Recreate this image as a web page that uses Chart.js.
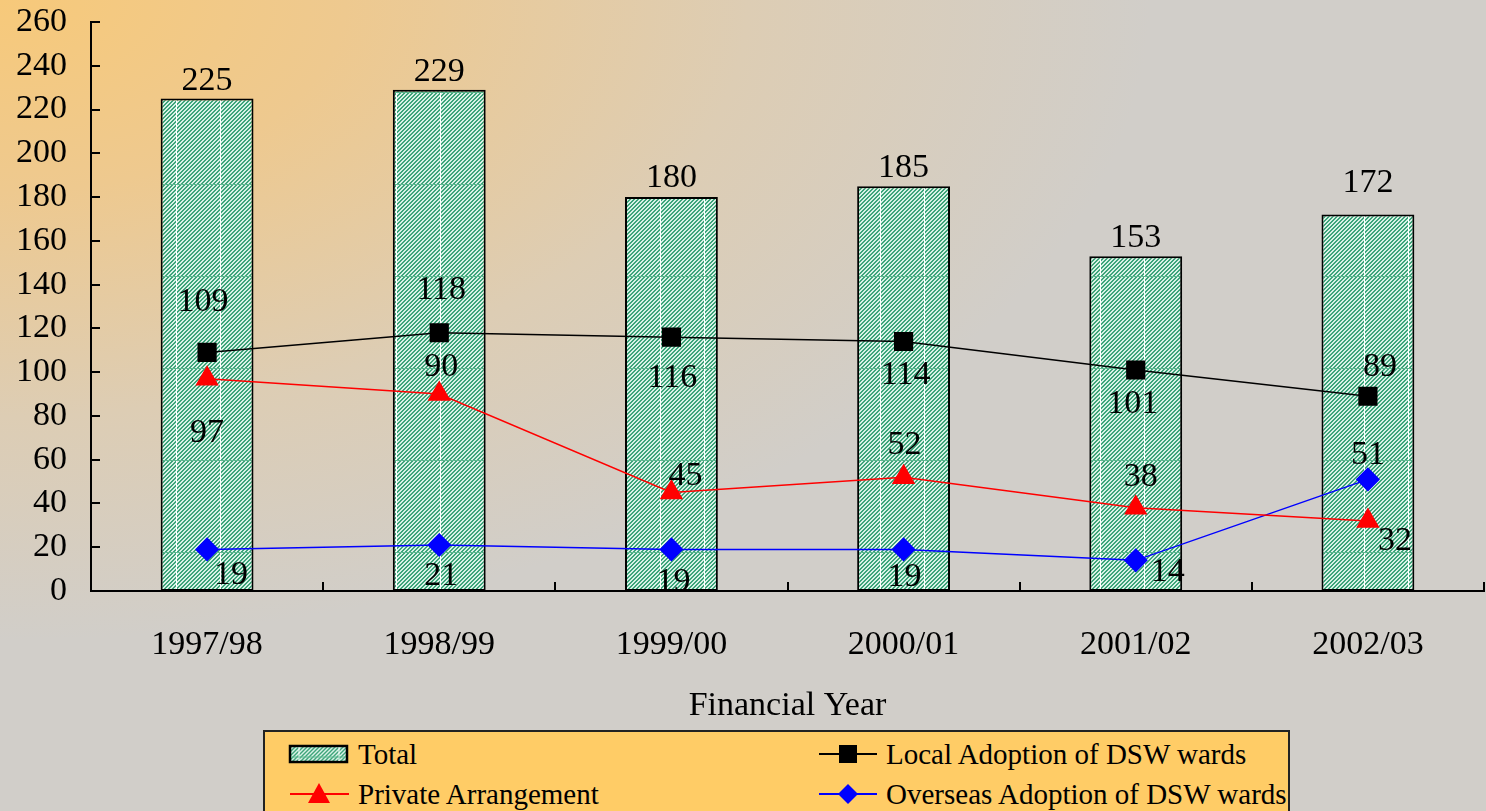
<!DOCTYPE html>
<html>
<head>
<meta charset="utf-8">
<script src="https://cdn.jsdelivr.net/npm/chart.js@4/dist/chart.umd.min.js"></script>
<style>
  html, body { margin: 0; padding: 0; }
  body {
    width: 1486px; height: 811px; overflow: hidden; position: relative;
    background: radial-gradient(ellipse 1150px 640px at 0 0, #f7c97a 0%, #eec98f 30%, #ddcdb4 65%, #d1cec9 100%);
    font-family: "Liberation Serif", "Times New Roman", serif;
  }
  #wrap { position: absolute; left: 0; top: 0; width: 1486px; height: 811px; }
  .legend {
    position: absolute; left: 263px; top: 730px; width: 1027px; height: 90px;
    background: #ffcc66; border: 2px solid #222; box-sizing: border-box;
    font-size: 29px; color: #000;
  }
  .item { position: absolute; display: flex; align-items: center; height: 36px; white-space: nowrap; }
  .item svg { margin-right: 5px; }
</style>
</head>
<body>
<div id="wrap"><canvas id="chart" width="1486" height="811"></canvas></div>
<div class="legend">
  <div class="item" style="left:22px;top:4px">
    <svg width="66" height="22">
      <defs>
        <pattern id="hatch" width="4" height="4" patternUnits="userSpaceOnUse">
          <rect width="4" height="4" fill="#d8f2e6"/>
          <path d="M-1,1 L1,-1 M0,4 L4,0 M3,5 L5,3" stroke="#3da47a" stroke-width="1.4"/>
        </pattern>
      </defs>
      <rect x="3" y="3" width="57" height="16" fill="url(#hatch)" stroke="#000" stroke-width="2.5"/>
      <line x1="12" y1="4" x2="12" y2="18" stroke="#fff" stroke-width="1"/>
      <line x1="52" y1="4" x2="52" y2="18" stroke="#fff" stroke-width="1"/>
      <line x1="4" y1="14" x2="59" y2="14" stroke="#5cb890" stroke-width="1"/>
    </svg>Total
  </div>
  <div class="item" style="left:22px;top:44px">
    <svg width="66" height="30"><line x1="3" y1="15" x2="62" y2="15" stroke="#ff0000" stroke-width="2"/><polygon points="32,4 43,24 21,24" fill="#ff0000"/></svg>Private Arrangement
  </div>
  <div class="item" style="left:552px;top:4px">
    <svg width="64" height="30"><line x1="2" y1="15" x2="60" y2="15" stroke="#000" stroke-width="2"/><rect x="22" y="6" width="18" height="18" fill="#000"/></svg>Local Adoption of DSW wards
  </div>
  <div class="item" style="left:552px;top:44px">
    <svg width="64" height="30"><line x1="2" y1="15" x2="60" y2="15" stroke="#0000ff" stroke-width="2"/><polygon points="31,5 41,15 31,25 21,15" fill="#0000ff"/></svg>Overseas Adoption of DSW wards
  </div>
</div>
<script>
const categories = ['1997/98', '1998/99', '1999/00', '2000/01', '2001/02', '2002/03'];
const totalValues = [225, 229, 180, 185, 153, 172];
const localValues = [109, 118, 116, 114, 101, 89];
const privateValues = [97, 90, 45, 52, 38, 32];
const overseasValues = [19, 21, 19, 19, 14, 51];
const yTicks = [0, 20, 40, 60, 80, 100, 120, 140, 160, 180, 200, 220, 240, 260];

// label offsets (px) from each mark
const totalLabelPos = [[0, -18], [0, -18], [0, -19], [0, -18], [0, -18], [0, -32]];
const localLabelPos = [[-4, -50], [2, -43], [1, 41], [2, 34], [-3, 34], [12, -29]];
const privateLabelPos = [[0, 54], [2, -27], [14, -16], [1, -32], [5, -31], [27, 20]];
const overseasLabelPos = [[24, 26], [2, 31], [2, 33], [1, 28], [32, 12], [0, -24]];

function makeHatch() {
  const w = 44, h = 92;
  const c = document.createElement('canvas');
  c.width = w; c.height = h;
  const g = c.getContext('2d');
  g.fillStyle = '#d8f2e6';
  g.fillRect(0, 0, w, h);
  g.fillStyle = '#3da47a';
  for (let y = 0; y < h; y++) {
    for (let x = 0; x < w; x++) {
      const k = (x + y) % 4;
      if (k === 0 || k === 1) g.fillRect(x, y, 1, 1);
    }
  }
  g.fillStyle = '#ffffff';
  g.fillRect(0, 0, 1, h);
  g.fillStyle = '#5cb890';
  g.fillRect(0, 0, w, 1);
  return g.createPattern(c, 'repeat');
}

const labelPlugin = {
  id: 'labels',
  afterDatasetsDraw(chart) {
    const ctx = chart.ctx;
    ctx.save();
    ctx.font = '34px "Liberation Serif"';
    ctx.fillStyle = '#000';
    ctx.textAlign = 'center';
    ctx.textBaseline = 'middle';
    const pos = [totalLabelPos, localLabelPos, privateLabelPos, overseasLabelPos];
    chart.data.datasets.forEach((ds, di) => {
      const meta = chart.getDatasetMeta(di);
      meta.data.forEach((el, i) => {
        ctx.fillText(String(ds.data[i]), el.x + pos[di][i][0], el.y + pos[di][i][1]);
      });
    });
    ctx.restore();
  }
};

const tickPlugin = {
  id: 'tickMarks',
  afterDraw(chart) {
    const ctx = chart.ctx;
    const x = chart.scales.x, y = chart.scales.y;
    ctx.save();
    ctx.strokeStyle = '#000';
    ctx.lineWidth = 2;
    ctx.beginPath();
    yTicks.forEach(v => {
      const py = Math.round(y.getPixelForValue(v));
      ctx.moveTo(x.left, py);
      ctx.lineTo(x.left + 9, py);
    });
    for (let i = 0; i <= categories.length; i++) {
      const px = Math.round(x.left + (x.right - x.left) * i / categories.length);
      ctx.moveTo(px, y.bottom);
      ctx.lineTo(px, y.bottom - 9);
    }
    ctx.stroke();
    ctx.restore();
  }
};

const ctx = document.getElementById('chart');
new Chart(ctx, {
  type: 'bar',
  data: {
    labels: categories,
    datasets: [{
      type: 'bar',
      label: 'Total',
      data: totalValues,
      backgroundColor: makeHatch(),
      borderColor: '#000',
      borderWidth: 2,
      borderSkipped: false,
      barPercentage: 0.4,
      categoryPercentage: 1,
      order: 4
    }, {
      type: 'line',
      label: 'Local Adoption of DSW wards',
      data: localValues,
      borderColor: '#000',
      backgroundColor: '#000',
      borderWidth: 1.5,
      pointStyle: 'rect',
      pointRadius: 12.5,
      order: 1
    }, {
      type: 'line',
      label: 'Private Arrangement',
      data: privateValues,
      borderColor: '#ff0000',
      backgroundColor: '#ff0000',
      borderWidth: 1.5,
      pointStyle: 'triangle',
      pointRadius: 12,
      order: 2
    }, {
      type: 'line',
      label: 'Overseas Adoption of DSW wards',
      data: overseasValues,
      borderColor: '#0000ff',
      backgroundColor: '#0000ff',
      borderWidth: 1.5,
      pointStyle: 'rectRot',
      pointRadius: 11,
      order: 3
    }]
  },
  options: {
    responsive: false,
    animation: false,
    devicePixelRatio: 1,
    layout: { autoPadding: false, padding: { top: 22, right: 2, left: 0, bottom: 84 } },
    plugins: { legend: { display: false }, tooltip: { enabled: false } },
    scales: {
      x: {
        offset: true,
        grid: { display: false, drawTicks: false },
        border: { color: '#000', width: 2 },
        ticks: { color: '#000', font: { family: 'Liberation Serif', size: 34 }, padding: 34, maxRotation: 0, autoSkip: false },
        title: { display: true, text: 'Financial Year', color: '#000', font: { family: 'Liberation Serif', size: 34 }, padding: { top: 10, bottom: 1 } },
        afterFit(scale) { scale.height = 136; scale.paddingLeft = 0; scale.paddingRight = 0; }
      },
      y: {
        min: 0, max: 260,
        grid: { display: false, drawTicks: false },
        border: { color: '#000', width: 2 },
        ticks: { stepSize: 20, color: '#000', font: { family: 'Liberation Serif', size: 34 }, padding: 24, autoSkip: false },
        afterFit(scale) { scale.width = 91; scale.paddingTop = 0; scale.paddingBottom = 0; }
      }
    }
  },
  plugins: [labelPlugin, tickPlugin]
});
</script>
</body>
</html>
